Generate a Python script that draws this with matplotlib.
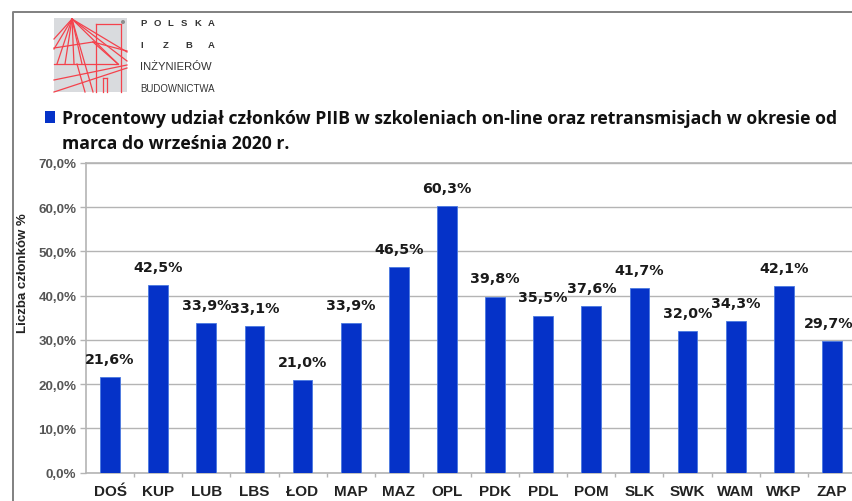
import matplotlib
matplotlib.use('Agg')
import matplotlib.pyplot as plt
from matplotlib.patches import Rectangle, Circle

W, H = 853, 502

categories = ['DOŚ', 'KUP', 'LUB', 'LBS', 'ŁOD', 'MAP', 'MAZ', 'OPL',
              'PDK', 'PDL', 'POM', 'SLK', 'SWK', 'WAM', 'WKP', 'ZAP']
values = [21.6, 42.5, 33.9, 33.1, 21.0, 33.9, 46.5, 60.3,
          39.8, 35.5, 37.6, 41.7, 32.0, 34.3, 42.1, 29.7]
yticks = [0, 10, 20, 30, 40, 50, 60, 70]
title_lines = ['Procentowy udział członków PIIB w szkoleniach on-line oraz retransmisjach w okresie od',
               'marca do września 2020 r.']

BLUE = '#0532c8'
GRID = '#b4b4b4'

fig = plt.figure(figsize=(W / 100, H / 100), dpi=100, facecolor='white')

# wykres
ax = fig.add_axes([86 / W, 1 - 473.5 / H, 770 / W, 309.5 / H])
ax.bar(range(len(values)), values, width=0.41, color=BLUE, edgecolor='#4a78e0', linewidth=0.6, zorder=3)
ax.set_xlim(-0.5, 15.5)
ax.set_ylim(0, 70)
ax.set_yticks(yticks)
ax.set_yticklabels(['%d,0%%' % t for t in yticks], fontsize=9.6, color='#555555',
                   fontfamily='Liberation Sans', fontweight='bold')
ax.set_xticks(range(len(categories)))
ax.set_xticklabels(categories, fontsize=11, color='#222222',
                   fontfamily='Liberation Sans', fontweight='bold')
ax.set_xticks([i + 0.5 for i in range(16)], minor=True)
ax.tick_params(axis='x', which='major', length=0, pad=8.5)
ax.tick_params(axis='x', which='minor', length=3, color=GRID, width=1)
ax.tick_params(axis='y', length=4, color=GRID, width=1, pad=3)
ax.grid(axis='y', color=GRID, linewidth=1, zorder=0)
ax.set_axisbelow(True)
for s in ['left', 'bottom', 'top']:
    ax.spines[s].set_color(GRID)
    ax.spines[s].set_linewidth(1.2)
ax.spines['right'].set_visible(False)

for i, v in enumerate(values):
    dx = -2.6 if i == len(values) - 1 else 0  # ostatnia etykieta przy krawędzi
    ax.annotate(('%.1f%%' % v).replace('.', ','), (i, v), xytext=(dx, 13), textcoords='offset points',
                ha='center', va='center', fontsize=10.3, fontweight='bold', color='#1a1a1a',
                fontfamily='DejaVu Sans', annotation_clip=False, zorder=5)

# warstwa w pikselach: ramka, logo, tytuł
ov = fig.add_axes([0, 0, 1, 1], facecolor='none')
ov.set_xlim(0, W)
ov.set_ylim(H, 0)
ov.axis('off')
ov.plot([13, 13, W], [H, 13, 13], color='#808080', lw=1.4)
ov.text(23, 273, 'Liczba członków %', rotation=90, ha='center', va='center', fontsize=9.5,
        fontweight='bold', color='#222222', fontfamily='Liberation Sans')

# logo
ov.add_patch(Rectangle((54, 19), 73, 74, facecolor='#d9dbde', edgecolor='none'))
ov.add_patch(Circle((123, 23), 2, facecolor='#8c8c8c', edgecolor='none'))
RED = '#f4424c'
apex = (72, 20)
for end in [(54, 40), (54, 50), (57, 65), (65, 65), (74, 65), (82, 65), (93, 93), (118, 65), (127, 53), (127, 62)]:
    ov.plot([apex[0], end[0]], [apex[1], end[1]], color=RED, lw=0.9)
logo_lines = [((54, 49), (93, 43)), ((93, 43), (127, 52)), ((54, 65), (118, 65)),
              ((54, 81), (127, 66)), ((54, 93), (127, 69)), ((77, 65), (85, 93)),
              ((96, 93), (96, 25)), ((96, 25), (121, 25)), ((121, 25), (121, 93)),
              ((103, 93), (103, 79)), ((107, 93), (107, 79)), ((103, 79), (107, 79)),
              ((93, 43), (118, 65))]
for a, b in logo_lines:
    ov.plot([a[0], b[0]], [a[1], b[1]], color=RED, lw=0.9)
for j, ch in enumerate('POLSKA'):
    ov.text(140 + j * 13.6, 23, ch, fontsize=6.8, color='#333333', va='center',
            fontfamily='Liberation Sans', fontweight='bold')
for j, ch in enumerate('IZBA'):
    ov.text(140 + j * 22.7, 45.5, ch, fontsize=6.8, color='#333333', va='center',
            fontfamily='Liberation Sans', fontweight='bold')
ov.text(140, 67.5, 'INŻYNIERÓW', fontsize=8.1, color='#333333', va='center', fontfamily='Liberation Sans')
ov.text(140, 89.5, 'BUDOWNICTWA', fontsize=6.9, color='#333333', va='center', fontfamily='Liberation Sans')

# tytuł
ov.add_patch(Rectangle((45, 112), 10.5, 11.5, facecolor=BLUE, edgecolor='none'))
ov.text(62, 119, title_lines[0], fontsize=12.7, fontweight='bold', color='#111111', va='center', fontfamily='Open Sans')
ov.text(62, 144.5, title_lines[1], fontsize=12.7, fontweight='bold', color='#111111', va='center', fontfamily='Open Sans')

plt.savefig('out.png', dpi=100)
